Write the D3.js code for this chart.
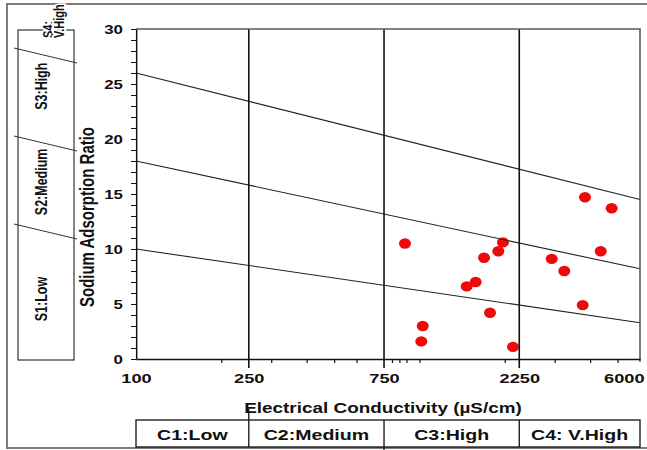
<!DOCTYPE html>
<html>
<head>
<meta charset="utf-8">
<script src="https://cdn.jsdelivr.net/npm/d3@7"></script>
<style>
  html, body { margin: 0; padding: 0; background: #fff; }
  svg { display: block; }
  text { font-family: "Liberation Sans", Arial, Helvetica, sans-serif; fill: #111; }
</style>
</head>
<body>
<svg id="chart" width="647" height="450"></svg>
<script>
// ---- data ----
const ecTicks = [100, 250, 750, 2250, 6000];
const ecMinorTicks = [200, 300, 400, 500, 600, 800, 850, 900, 1000, 2000, 3000, 4000, 5000];
const sarTicks = d3.range(0, 31);
const salinityClasses = ["C1:Low", "C2:Medium", "C3:High", "C4: V.High"];
const sodiumClasses = ["S1:Low", "S2:Medium", "S3:High"];
const sodiumTopClass = ["S4:", "V.High"];
// sodium hazard boundaries: SAR at EC = 100 and at EC = 6000
const boundarySarLow = [26, 18, 10];
const boundarySarHigh = [14.5, 8.2, 3.3];
// water samples
const sampleEC  = [889, 1027, 1015, 1468, 1579, 1690, 1774, 1898, 1971, 2138, 2929, 3244, 3767, 3838, 4361, 4766];
const sampleSAR = [10.5, 3.0, 1.6, 6.6, 7.0, 9.2, 4.2, 9.8, 10.6, 1.1, 9.1, 8.0, 4.9, 14.7, 9.8, 13.7];

// ---- layout ----
const W = 647, H = 450;
const plot = { left: 136, right: 640, top: 29, bottom: 359 };
const stretch = 1.35;           // wide lettering used throughout
const svg = d3.select("#chart");

const x = d3.scaleLog().domain([100, 6000]).range([plot.left, plot.right]);
const y = d3.scaleLinear().domain([0, 30]).range([plot.bottom, plot.top]);

// outer frame
svg.append("path")
  .attr("d", `M${W + 2},4 H7 V448 H${W + 2}`)
  .attr("fill", "none").attr("stroke", "#7a7a7a").attr("stroke-width", 2);

// samples
svg.append("g").selectAll("ellipse")
  .data(sampleEC.map((e, i) => [e, sampleSAR[i]]))
  .join("ellipse")
  .attr("cx", d => x(d[0])).attr("cy", d => y(d[1]))
  .attr("rx", 6).attr("ry", 5.2)
  .attr("fill", "#ee0a0a");

// sodium hazard boundaries
svg.append("g").selectAll("line")
  .data(boundarySarLow.map((s, i) => [s, boundarySarHigh[i]]))
  .join("line")
  .attr("x1", x(100)).attr("y1", d => y(d[0]))
  .attr("x2", x(6000)).attr("y2", d => y(d[1]))
  .attr("stroke", "#222").attr("stroke-width", 1.1);

// salinity class dividers
svg.append("g").selectAll("line")
  .data(ecTicks.slice(1, -1))
  .join("line")
  .attr("x1", d => x(d)).attr("x2", d => x(d))
  .attr("y1", plot.top).attr("y2", plot.bottom + 9)
  .attr("stroke", "#111").attr("stroke-width", 1.6);

// top and right plot border
svg.append("path")
  .attr("d", `M${plot.left},${plot.top} H${plot.right} V${plot.bottom + 3}`)
  .attr("fill", "none").attr("stroke", "#5a5a5a").attr("stroke-width", 1.6);

// x axis: minor ticks
svg.append("g")
  .attr("transform", `translate(0,${plot.bottom})`)
  .call(d3.axisBottom(x).tickValues(ecMinorTicks).tickSize(4).tickSizeOuter(0).tickFormat(""))
  .call(g => g.selectAll("line").attr("stroke", "#111").attr("stroke-width", 1.2))
  .call(g => g.select(".domain").attr("stroke", "#111").attr("stroke-width", 1.4));

// x axis: labelled ticks
const xLab = svg.append("g")
  .attr("transform", `translate(0,${plot.bottom})`)
  .call(d3.axisBottom(x).tickValues(ecTicks).tickSize(0).tickPadding(14).tickFormat(d3.format("d")));
xLab.select(".domain").remove();
xLab.selectAll("text")
  .attr("font-size", 13.5).attr("font-weight", "bold").attr("fill", "#111")
  .attr("font-family", "Liberation Sans, Arial, sans-serif")
  .attr("transform", `scale(${stretch},1)`)
  .each(function (d) {
    // keep the last label inside the frame
    const half = this.getComputedTextLength() * stretch / 2;
    const over = x(d) + half - (W - 3);
    if (over > 0) d3.select(this).attr("x", -over / stretch);
  });

// y axis
svg.append("g")
  .attr("transform", `translate(${plot.left},0) scale(${stretch},1)`)
  .call(d3.axisLeft(y).tickValues(sarTicks).tickSize(3.7).tickPadding(6)
    .tickSizeOuter(0).tickFormat(d => d % 5 === 0 ? d : ""))
  .call(g => g.selectAll("line").attr("stroke", "#111").attr("stroke-width", 1))
  .call(g => g.select(".domain").attr("stroke", "#111").attr("stroke-width", 1.1))
  .call(g => g.selectAll("text").attr("font-size", 12.5).attr("font-weight", "bold")
    .attr("fill", "#111").attr("font-family", "Liberation Sans, Arial, sans-serif"));

// axis titles
svg.append("text")
  .attr("transform", `translate(${(plot.left + plot.right) / 2 - 5},413) scale(${stretch},1)`)
  .attr("text-anchor", "middle").attr("font-size", 14).attr("font-weight", "bold")
  .text("Electrical Conductivity (µS/cm)");

svg.append("text")
  .attr("transform", `translate(94,217) scale(${stretch},1) rotate(-90)`)
  .attr("text-anchor", "middle").attr("font-size", 15).attr("font-weight", "bold")
  .text("Sodium Adsorption Ratio");

// salinity hazard classes table
const tableTop = 420, tableBottom = 447;
const cols = [x(100), x(250), x(750), x(2250), x(6000)];
svg.append("rect")
  .attr("x", cols[0]).attr("y", tableTop)
  .attr("width", cols[4] - cols[0]).attr("height", tableBottom - tableTop)
  .attr("fill", "none").attr("stroke", "#111").attr("stroke-width", 1.3);
svg.append("g").selectAll("line")
  .data(cols.slice(1, -1))
  .join("line")
  .attr("x1", d => d).attr("x2", d => d)
  .attr("y1", (d, i) => i === 0 ? 409 : tableTop)
  .attr("y2", (d, i) => i === 1 ? H : tableBottom)
  .attr("stroke", "#111").attr("stroke-width", 1.3);
svg.append("g").selectAll("text")
  .data(salinityClasses)
  .join("text")
  .attr("transform", (d, i) => `translate(${(cols[i] + cols[i + 1]) / 2},${tableTop + 20}) scale(${stretch},1)`)
  .attr("text-anchor", "middle").attr("font-size", 14.5).attr("font-weight", "bold")
  .text(d => d);

// sodium hazard classes panel
const panel = { left: 18, right: 74, top: y(30) + 1, bottom: y(0) + 1 };
svg.append("rect")
  .attr("x", panel.left).attr("y", panel.top)
  .attr("width", panel.right - panel.left).attr("height", panel.bottom - panel.top)
  .attr("fill", "none").attr("stroke", "#222").attr("stroke-width", 1.1);
svg.append("g").selectAll("line")
  .data(boundarySarLow)
  .join("line")
  .attr("x1", panel.left - 4).attr("y1", d => y(d) - 25)
  .attr("x2", panel.right + 3).attr("y2", d => y(d) - 10)
  .attr("stroke", "#333").attr("stroke-width", 1);

const panelLabelY = [y(5.45), y(16.1), y(24.8)];
const panelText = svg.append("g")
  .attr("font-size", 12.5).attr("font-weight", "bold")
  .attr("paint-order", "stroke").attr("stroke", "#fff").attr("stroke-width", 3);
panelText.selectAll("text.cls")
  .data(sodiumClasses)
  .join("text").attr("class", "cls")
  .attr("transform", (d, i) => `translate(${(panel.left + panel.right) / 2 + 1},${panelLabelY[i]}) scale(${stretch},1) rotate(-90)`)
  .attr("text-anchor", "middle")
  .text(d => d);
panelText.selectAll("text.top")
  .data(sodiumTopClass)
  .join("text").attr("class", "top")
  .attr("transform", (d, i) => `translate(${53 + i * 11},38) scale(${stretch},1) rotate(-90)`)
  .attr("text-anchor", "start").attr("font-size", 11)
  .text(d => d);
</script>
</body>
</html>
